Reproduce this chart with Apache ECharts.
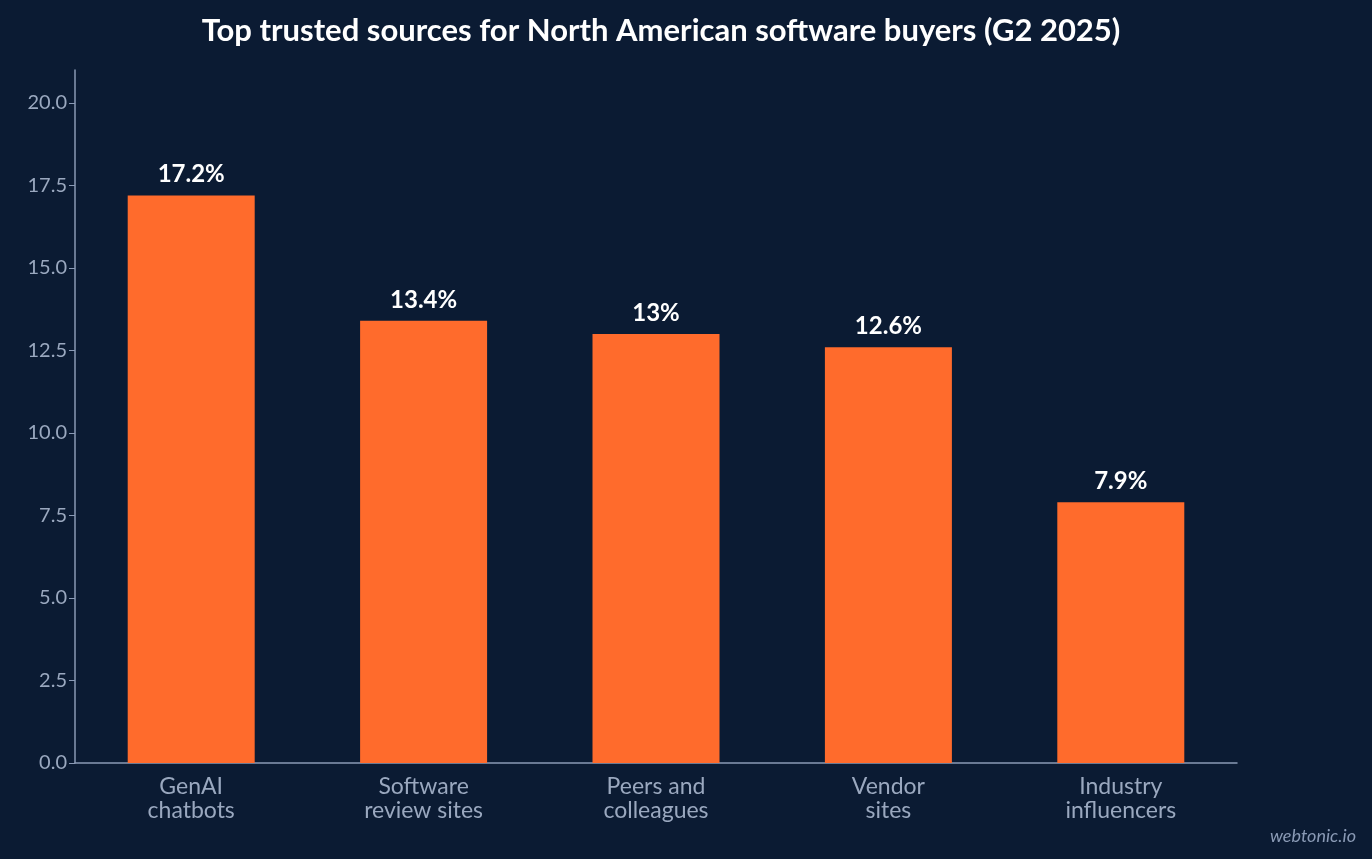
<!DOCTYPE html>
<html><head><meta charset="utf-8">
<script src="https://cdn.jsdelivr.net/npm/echarts@6/dist/echarts.min.js"></script>
<style>html,body{margin:0;background:#0b1b33;}#c{width:1372px;height:859px;}</style>
</head><body><div id="c"></div>
<script>
const categories = ['GenAI\nchatbots','Software\nreview sites','Peers and\ncolleagues','Vendor\nsites','Industry\ninfluencers'];
const values = [17.2, 13.4, 13, 12.6, 7.9];
const chart = echarts.init(document.getElementById('c'));
chart.setOption({
  backgroundColor:'#0b1b33',
  textStyle:{fontFamily:'Lato'},
  title:{text:'Top trusted sources for North American software buyers (G2 2025)',left:656,textAlign:'center',top:10,
    textStyle:{color:'#ffffff',fontSize:31,fontWeight:'bold',fontFamily:'Lato'}},
  graphic:[{type:'text',right:16,bottom:14,style:{text:'webtonic.io',fill:'#8a9ab5',font:'italic 18px Lato'}}],
  grid:{left:75,right:135,top:70,bottom:96},
  xAxis:{type:'category',data:categories,
    axisLine:{lineStyle:{color:'#8a9ab5',width:1.5}},axisTick:{show:false},
    axisLabel:{color:'#9aa8bf',fontSize:23,lineHeight:24,margin:12,fontFamily:'Lato'}},
  yAxis:{type:'value',min:0,max:21,interval:2.5,
    axisLine:{show:true,lineStyle:{color:'#8a9ab5',width:1.5}},axisTick:{show:true,length:6,lineStyle:{color:'#8a9ab5'}},
    splitLine:{show:false},
    axisLabel:{color:'#9aa8bf',fontSize:20,showMaxLabel:false,formatter:v=>v.toFixed(1),fontFamily:'Lato'}},
  series:[{type:'bar',data:values,barWidth:127,itemStyle:{color:'#ff6b2c'},
    label:{show:true,position:'top',distance:9,color:'#ffffff',fontSize:24,fontWeight:'bold',fontFamily:'Lato',formatter:p=>p.value+'%'}}]
});
</script></body></html>
